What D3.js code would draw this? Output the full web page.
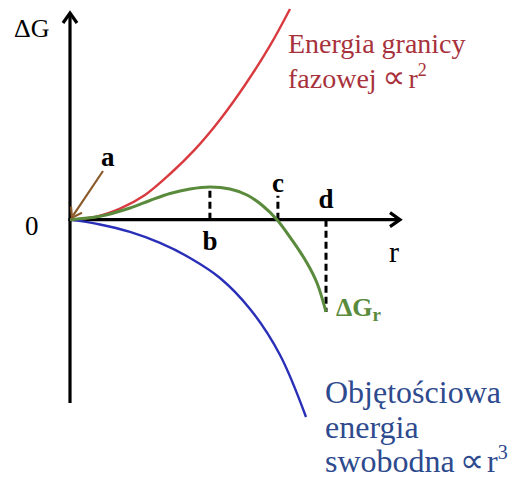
<!DOCTYPE html>
<html>
<head>
<meta charset="utf-8">
<script src="https://cdn.jsdelivr.net/npm/d3@7"></script>
<style>
  body { margin: 0; background: #fff; }
  svg text { font-family: "Liberation Serif", "DejaVu Serif", serif; }
  svg tspan.prop { font-family: "DejaVu Sans", sans-serif; }
</style>
</head>
<body>
<div id="chart"></div>
<script>
// curve points: [r, dG]
var surfaceEnergy = [
  [0, 0], [0.758, 0.08], [1.515, 0.33], [2.273, 0.74], [3.03, 1.37], [3.788, 2.11],
  [4.545, 3.00], [5.303, 4.04], [6.06, 5.22], [6.667, 6.32]
];
var volumeEnergy = [
  [0, 0], [0.909, -0.144], [1.818, -0.369], [2.727, -0.699], [3.636, -1.149],
  [4.545, -1.749], [5.455, -2.679], [6.364, -4.059], [7.152, -5.919]
];
var totalEnergy = [
  [0, 0], [0.909, 0.10], [1.818, 0.35], [2.424, 0.576], [3.03, 0.786], [3.636, 0.921],
  [4.242, 0.981], [4.848, 0.921], [5.364, 0.741], [5.848, 0.411], [6.273, 0],
  [6.758, -0.654], [7.182, -1.299], [7.485, -1.899], [7.758, -2.769]
];
// marked radii with the height the dashed line reaches
var markers = [
  { name: "b", r: 4.24, top: 0.98 },
  { name: "c", r: 6.30, top: 0.72 },
  { name: "d", r: 7.758, top: -2.769 }
];

var width = 522, height = 479;
var svg = d3.select("#chart").append("svg")
  .attr("width", width)
  .attr("height", height);

var x = d3.scaleLinear().domain([0, 10]).range([70, 400]);
var y = d3.scaleLinear().domain([-5.5, 6.2]).range([403, 13]);

var line = d3.line()
  .x(function(d) { return x(d[0]); })
  .y(function(d) { return y(d[1]); })
  .curve(d3.curveCatmullRom.alpha(0.5));

// axes
svg.append("line")
  .attr("x1", x(0)).attr("y1", y(-5.5))
  .attr("x2", x(0)).attr("y2", y(6.2) + 1)
  .attr("stroke", "#000").attr("stroke-width", 3.2);
svg.append("path")
  .attr("d", "M" + (x(0) - 7) + "," + (y(6.2) + 10) + " L" + x(0) + "," + y(6.2) + " L" + (x(0) + 7) + "," + (y(6.2) + 10))
  .attr("fill", "none").attr("stroke", "#000").attr("stroke-width", 3.2);

svg.append("line")
  .attr("x1", x(0) - 1.6).attr("y1", y(0))
  .attr("x2", x(10) - 1).attr("y2", y(0))
  .attr("stroke", "#000").attr("stroke-width", 3.2);
svg.append("path")
  .attr("d", "M" + (x(10) - 10) + "," + (y(0) - 7) + " L" + x(10) + "," + y(0) + " L" + (x(10) - 10) + "," + (y(0) + 7))
  .attr("fill", "none").attr("stroke", "#000").attr("stroke-width", 3.2);

// dashed marker lines
svg.selectAll(".marker")
  .data(markers)
  .enter()
  .append("line")
  .attr("class", "marker")
  .attr("x1", function(d) { return x(d.r); })
  .attr("x2", function(d) { return x(d.r); })
  .attr("y1", y(0))
  .attr("y2", function(d) { return y(d.top); })
  .attr("stroke", "#000")
  .attr("stroke-width", 3)
  .attr("stroke-dasharray", "7,4");

// curves
svg.append("path").datum(surfaceEnergy)
  .attr("d", line).attr("fill", "none")
  .attr("stroke", "#d93a3f").attr("stroke-width", 2.4);
svg.append("path").datum(volumeEnergy)
  .attr("d", line).attr("fill", "none")
  .attr("stroke", "#2a2fb8").attr("stroke-width", 2.4);
svg.append("path").datum(totalEnergy)
  .attr("d", line).attr("fill", "none")
  .attr("stroke", "#5a8a3c").attr("stroke-width", 3);

// arrow to point a
svg.append("line")
  .attr("x1", 103).attr("y1", 171)
  .attr("x2", x(0) + 3).attr("y2", y(0) - 4)
  .attr("stroke", "#8b5a2b").attr("stroke-width", 2.2);
svg.append("path")
  .attr("d", "M" + (x(0) + 1) + "," + (y(0) - 13) + " L" + (x(0) + 2) + "," + (y(0) - 2) + " L" + (x(0) + 12) + "," + (y(0) - 7))
  .attr("fill", "none").attr("stroke", "#8b5a2b").attr("stroke-width", 2.2);

// labels
svg.append("text").attr("x", 14).attr("y", 37)
  .style("font-size", "26px").text("ΔG");
svg.append("text").attr("x", 25).attr("y", 235)
  .style("font-size", "27px").text("0");
svg.append("text").attr("x", 389).attr("y", 262)
  .style("font-size", "30px").text("r");
svg.append("text").attr("x", 101).attr("y", 166)
  .style("font-size", "27px").style("font-weight", "bold").text("a");

svg.selectAll(".mlabel")
  .data(markers)
  .enter()
  .append("text")
  .attr("class", "mlabel")
  .attr("x", function(d) { return x(d.r); })
  .attr("y", function(d) { return d.name === "b" ? 250 : (d.name === "c" ? 192 : 208); })
  .attr("text-anchor", "middle")
  .style("font-size", "27px").style("font-weight", "bold")
  .text(function(d) { return d.name; });

var gr = svg.append("text").attr("x", 336).attr("y", 316)
  .style("font-size", "26px").style("font-weight", "bold").attr("fill", "#5a8a3c");
gr.append("tspan").text("ΔG");
gr.append("tspan").attr("dy", 5).style("font-size", "19px").text("r");

var red = "#a8323c";
svg.append("text").attr("x", 288).attr("y", 53)
  .style("font-size", "28px").attr("fill", red).text("Energia granicy");
var red2 = svg.append("text").attr("x", 288).attr("y", 88)
  .style("font-size", "28px").attr("fill", red);
red2.append("tspan").text("fazowej");
red2.append("tspan").attr("class", "prop").attr("dx", 6).style("font-size", "32px").text("∝");
red2.append("tspan").attr("dx", 3).text("r");
red2.append("tspan").attr("dy", -12).style("font-size", "18px").text("2");

var blue = "#2e4a8e";
svg.append("text").attr("x", 325).attr("y", 403)
  .style("font-size", "32px").attr("fill", blue).text("Objętościowa");
svg.append("text").attr("x", 325).attr("y", 438)
  .style("font-size", "32px").attr("fill", blue).text("energia");
var blue3 = svg.append("text").attr("x", 325).attr("y", 472)
  .style("font-size", "32px").attr("fill", blue);
blue3.append("tspan").text("swobodna");
blue3.append("tspan").attr("class", "prop").attr("dx", 5).style("font-size", "34px").text("∝");
blue3.append("tspan").attr("dx", 3).text("r");
blue3.append("tspan").attr("dy", -13).style("font-size", "20px").text("3");
</script>
</body>
</html>
